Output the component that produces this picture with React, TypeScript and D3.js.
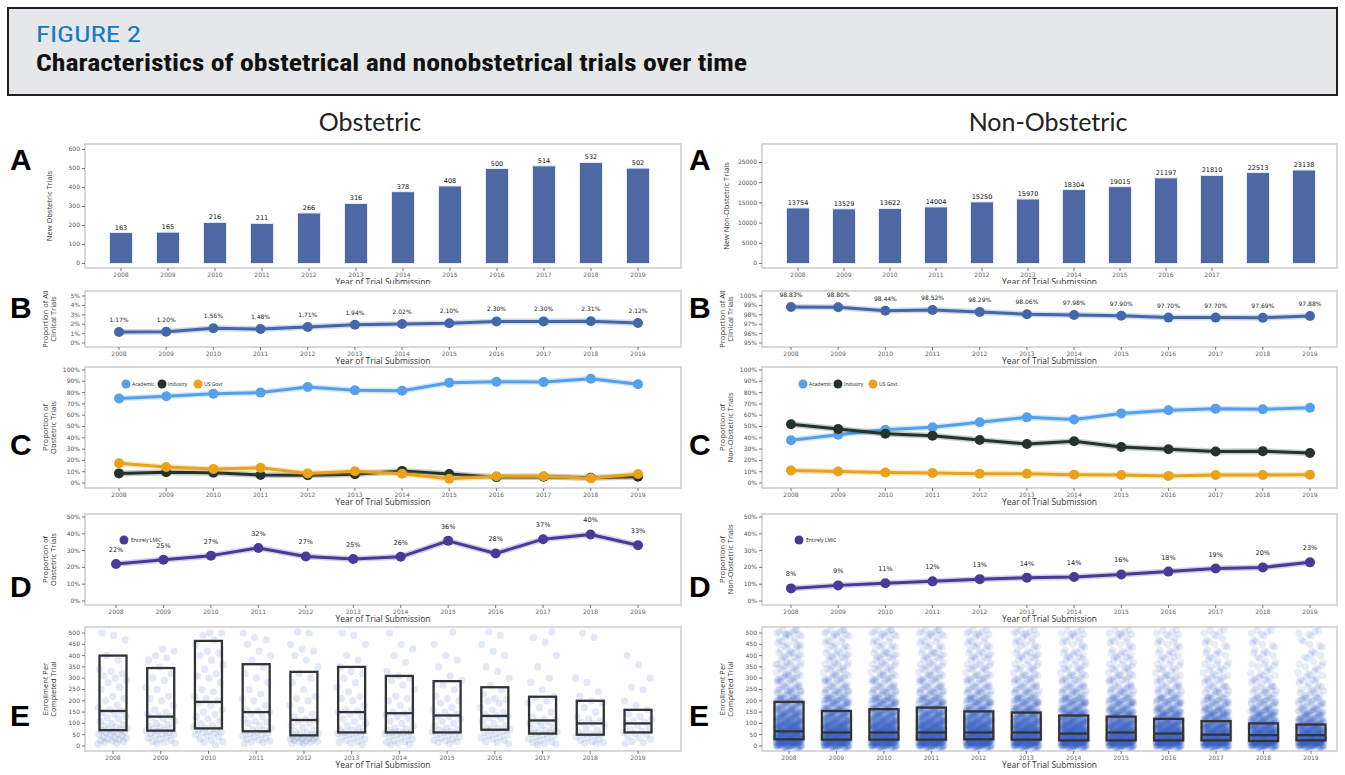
import React from "react";
import * as d3 from "d3";

// ---------------- DATA ----------------
const years = [2008, 2009, 2010, 2011, 2012, 2013, 2014, 2015, 2016, 2017, 2018, 2019];
const nonObsYearLabelsA = [2008, 2009, 2010, 2011, 2012, 2013, 2014, 2015, 2016, 2017];

const obsNewTrials = [163, 165, 216, 211, 266, 316, 378, 408, 500, 514, 532, 502];
const nonObsNewTrials = [13754, 13529, 13622, 14004, 15250, 15970, 18304, 19015, 21197, 21810, 22513, 23138];

const obsShareOfAll = [1.17, 1.2, 1.56, 1.48, 1.71, 1.94, 2.02, 2.1, 2.3, 2.3, 2.31, 2.12];
const nonObsShareOfAll = [98.83, 98.8, 98.44, 98.52, 98.29, 98.06, 97.98, 97.9, 97.7, 97.7, 97.69, 97.88];

const obsAcademic = [74.8, 76.7, 79, 80, 85, 82, 81.6, 88.8, 89.6, 89.3, 92.3, 87.4];
const obsIndustry = [8.5, 9.6, 9, 7.1, 6.8, 7.7, 10.7, 7.9, 5.2, 5.5, 4.7, 5.5];
const obsGovt = [17.5, 14.2, 12.3, 13.4, 8.5, 10.4, 8.2, 3.8, 6, 6, 4.1, 7.9];
const nonAcademic = [37.8, 42.7, 47.1, 49.3, 53.7, 58.1, 56.2, 61.6, 64.4, 65.8, 65.2, 66.6];
const nonIndustry = [52, 47.7, 43.6, 41.9, 38.1, 34.5, 37, 31.8, 29.9, 27.9, 28.2, 26.6];
const nonGovt = [11, 10.1, 9.3, 8.8, 8.2, 8.2, 7.4, 7.1, 6.3, 7.1, 7.1, 7.4];

const obsLMIC = [22, 24.6, 27, 31.6, 26.5, 25, 26.3, 35.8, 28.3, 36.8, 39.6, 33.2];
const nonLMIC = [7.5, 9.3, 10.6, 11.7, 13, 13.9, 14.3, 15.8, 17.5, 19.3, 20, 23];

const obsQ1 = [70, 68, 78, 65, 47, 60, 60, 60, 72, 55, 50, 60];
const obsMedian = [155, 130, 195, 150, 115, 150, 145, 135, 133, 113, 100, 100];
const obsQ3 = [400, 345, 465, 362, 328, 350, 310, 287, 260, 218, 200, 160];
const nonQ1 = [30, 28, 28, 28, 30, 28, 25, 25, 25, 25, 22, 25];
const nonMedian = [65, 60, 60, 60, 60, 60, 55, 60, 55, 50, 48, 48];
const nonQ3 = [195, 155, 163, 170, 153, 148, 135, 130, 120, 110, 100, 95];

const obsEnrollment = [
  [8, 12, 15, 20, 22, 25, 28, 30, 35, 38, 40, 45, 50, 52, 55, 60, 62, 65, 70, 72, 75, 80, 85, 90, 95, 100, 110, 120, 125, 130, 140, 150, 155, 160, 170, 180, 200, 210, 220, 250, 260, 280, 290, 300, 310, 320, 330, 340, 380, 400, 470, 490, 500],
  [10, 12, 15, 20, 25, 30, 35, 40, 45, 50, 52, 55, 60, 65, 68, 70, 75, 80, 85, 90, 95, 100, 110, 120, 125, 130, 135, 140, 150, 160, 180, 200, 210, 220, 250, 260, 290, 300, 320, 350, 380, 390, 400, 420, 430],
  [5, 15, 20, 25, 30, 40, 45, 50, 55, 60, 62, 65, 70, 75, 80, 85, 90, 100, 110, 120, 130, 140, 150, 160, 180, 190, 200, 210, 220, 240, 250, 280, 300, 310, 320, 340, 360, 380, 400, 410, 420, 450, 470, 490, 500, 500],
  [10, 15, 18, 22, 25, 30, 35, 40, 45, 50, 55, 60, 62, 65, 70, 75, 80, 90, 100, 105, 110, 120, 130, 140, 150, 155, 160, 180, 200, 210, 230, 250, 280, 300, 320, 350, 380, 400, 420, 450, 470, 480, 500],
  [10, 12, 15, 18, 20, 22, 25, 28, 30, 32, 35, 38, 40, 42, 45, 48, 50, 55, 60, 65, 70, 80, 90, 100, 110, 115, 120, 130, 140, 160, 180, 200, 210, 220, 250, 280, 300, 320, 350, 380, 400, 420, 430, 450, 500, 505],
  [5, 10, 15, 20, 25, 30, 35, 40, 45, 50, 55, 58, 60, 65, 70, 75, 80, 90, 100, 110, 120, 130, 140, 150, 155, 160, 180, 200, 210, 220, 240, 260, 280, 300, 320, 330, 350, 380, 400, 450, 490, 500],
  [5, 8, 10, 15, 20, 25, 30, 35, 40, 45, 50, 55, 58, 60, 62, 65, 70, 75, 80, 90, 100, 110, 120, 130, 140, 145, 150, 160, 180, 200, 210, 220, 250, 270, 290, 300, 310, 330, 370, 400, 430, 450, 500],
  [10, 15, 20, 22, 25, 30, 35, 40, 45, 50, 55, 60, 62, 65, 70, 75, 80, 90, 100, 110, 120, 130, 135, 140, 150, 160, 170, 190, 200, 210, 220, 250, 270, 290, 310, 350, 380, 400, 450, 505],
  [10, 15, 20, 25, 30, 35, 40, 45, 50, 55, 60, 65, 70, 75, 78, 80, 90, 100, 110, 120, 125, 130, 135, 140, 150, 160, 170, 190, 200, 205, 210, 230, 250, 270, 300, 330, 350, 400, 420, 450, 490, 505],
  [5, 8, 10, 15, 20, 25, 30, 35, 40, 45, 50, 55, 58, 60, 65, 70, 75, 80, 90, 100, 105, 110, 115, 120, 130, 150, 170, 190, 200, 210, 220, 250, 280, 300, 350, 400, 460, 480, 505],
  [10, 12, 15, 20, 25, 30, 35, 40, 45, 50, 52, 55, 60, 70, 80, 90, 100, 105, 110, 120, 130, 150, 170, 190, 200, 220, 240, 280, 300, 480, 500],
  [10, 15, 20, 30, 35, 40, 50, 55, 60, 65, 70, 80, 90, 100, 105, 110, 120, 130, 140, 160, 180, 200, 250, 260, 300, 360, 400],
];

const enrollmentLevels = [5, 25, 50, 75, 100, 125, 150, 175, 200, 225, 250, 275, 300, 325, 350, 375, 400, 425, 450, 475, 500];
const nonEnrollmentCounts = [
  [70, 80, 80, 65, 55, 42, 38, 24, 26, 14, 15, 9, 12, 7, 9, 6, 9, 5, 7, 5, 10],
  [70, 80, 80, 65, 54, 40, 36, 23, 25, 13, 14, 9, 11, 7, 8, 6, 8, 5, 6, 5, 9],
  [70, 80, 80, 65, 55, 42, 37, 24, 26, 14, 14, 9, 11, 7, 8, 6, 9, 5, 6, 5, 9],
  [70, 80, 80, 65, 55, 42, 38, 24, 26, 14, 14, 9, 11, 7, 8, 6, 9, 5, 6, 5, 9],
  [70, 80, 80, 65, 54, 40, 36, 23, 25, 13, 13, 8, 11, 6, 8, 5, 8, 5, 6, 4, 8],
  [70, 80, 80, 65, 54, 40, 36, 23, 25, 13, 13, 8, 11, 6, 7, 5, 8, 4, 6, 4, 8],
  [74, 82, 80, 65, 54, 40, 36, 23, 26, 13, 13, 8, 10, 6, 7, 5, 7, 4, 5, 4, 7],
  [74, 82, 80, 62, 52, 38, 34, 21, 23, 12, 12, 7, 10, 6, 7, 5, 7, 4, 5, 4, 7],
  [74, 82, 78, 60, 50, 36, 32, 19, 21, 11, 11, 7, 9, 5, 6, 4, 6, 4, 5, 3, 6],
  [74, 80, 76, 58, 46, 32, 28, 16, 18, 10, 10, 6, 8, 5, 5, 4, 5, 3, 4, 3, 5],
  [74, 80, 74, 56, 44, 30, 25, 15, 16, 9, 9, 5, 7, 4, 5, 3, 5, 3, 4, 2, 5],
  [74, 78, 72, 54, 40, 26, 20, 12, 13, 7, 7, 5, 6, 4, 4, 3, 4, 2, 3, 2, 4],
];

const obsCountTicks = [0, 100, 200, 300, 400, 500, 600];
const nonObsCountTicks = [0, 5000, 10000, 15000, 20000, 25000];
const obsShareTicks = [0, 1, 2, 3, 4, 5];
const nonObsShareTicks = [95, 96, 97, 98, 99, 100];
const sponsorTicks = [0, 10, 20, 30, 40, 50, 60, 70, 80, 90, 100];
const lmicTicks = [0, 10, 20, 30, 40, 50];
const enrollTicks = [0, 50, 100, 150, 200, 250, 300, 350, 400, 450, 500];

const sponsorNames = ["Academic", "Industry", "US Govt"];

// ---------------- STYLE / LAYOUT ----------------
const C_BAR = "#4d68a3";
const C_SHARE = "#4467aa";
const C_ACAD = "#56a0ea";
const C_IND = "#25332f";
const C_GOV = "#e8a21c";
const C_LMIC = "#4a3a97";
const TICK_FONT = "'DejaVu Sans', sans-serif";
const SMALL_FONT = "'Open Sans', 'DejaVu Sans', sans-serif";

const COLS = {
  left: { x0: 85, x1: 681, xa: 119, xb: 638, titleX: 370, letterX: 10 },
  right: { x0: 762, x1: 1337, xa: 791, xb: 1310, titleX: 1048, letterX: 689 },
};
const ROWS = {
  A: { top: 144, bottom: 268, bg: 138, letterY: 170 },
  B: { top: 291, bottom: 347, bg: 284, letterY: 318 },
  C: { top: 367, bottom: 488, bg: 364, letterY: 455 },
  D: { top: 514, bottom: 605, bg: 510, letterY: 597 },
  E: { top: 627, bottom: 751, bg: 624, letterY: 726 },
};

function Frame({ col, row, yScale, yTicks, yFmt, yTitle, xLabels, xScale, children, bgBottom }: any) {
  const midY = (row.top + row.bottom) / 2;
  return (
    <g>
      <rect x={col.x0 - 70} y={row.bg} width={col.x1 - col.x0 + 75} height={bgBottom - row.bg} fill="#fff" />
      <rect x={col.x0} y={row.top} width={col.x1 - col.x0} height={row.bottom - row.top} fill="none" stroke="#cfcfcf" strokeWidth={1.6} />
      {yTicks.map((t: number) => (
        <g key={"y" + t}>
          <line x1={col.x0 - 3} x2={col.x0} y1={yScale(t)} y2={yScale(t)} stroke="#555" strokeWidth={0.8} />
          <text x={col.x0 - 5} y={yScale(t)} dy="0.33em" textAnchor="end" fontSize={6} fill="#555" fontFamily={TICK_FONT}>
            {yFmt(t)}
          </text>
        </g>
      ))}
      {xLabels.map((yr: number) => (
        <g key={"x" + yr}>
          <line x1={xScale(yr)} x2={xScale(yr)} y1={row.bottom} y2={row.bottom + 3} stroke="#555" strokeWidth={0.8} />
          <text x={xScale(yr)} y={row.bottom + 9} textAnchor="middle" fontSize={6} fill="#666" fontFamily={TICK_FONT}>
            {yr}
          </text>
        </g>
      ))}
      <text x={(col.x0 + col.x1) / 2} y={row.bottom + 17} textAnchor="middle" fontSize={8.5} fill="#333" fontFamily="'Open Sans', sans-serif">
        Year of Trial Submission
      </text>
      {yTitle.map((line: string, i: number) => {
        const x = col.x0 - 37 + i * 8 + (yTitle.length === 1 ? 4 : 0);
        return (
          <text key={line} transform={`translate(${x},${midY}) rotate(-90)`} textAnchor="middle" fontSize={7.5} fill="#333" fontFamily="'Open Sans', sans-serif">
            {line}
          </text>
        );
      })}
      {children}
    </g>
  );
}

function LinePlot({ xScale, yScale, values, color, r = 5, width = 3 }: any) {
  const line = d3
    .line<number>()
    .x((_, i) => xScale(years[i]))
    .y((v) => yScale(v));
  return (
    <g>
      <path d={line(values) || ""} fill="none" stroke={color} strokeOpacity={0.25} strokeWidth={width + 3} strokeLinejoin="round" />
      <path d={line(values) || ""} fill="none" stroke={color} strokeWidth={width} strokeLinejoin="round" />
      {values.map((v: number, i: number) => (
        <circle key={i} cx={xScale(years[i])} cy={yScale(v)} r={r} fill={color} />
      ))}
    </g>
  );
}

function PanelA({ colKey }: { colKey: "left" | "right" }) {
  const col = COLS[colKey];
  const row = ROWS.A;
  const isObs = colKey === "left";
  const data = isObs ? obsNewTrials : nonObsNewTrials;
  const xs = isObs
    ? d3.scalePoint<number>().domain(years).range([121, 638])
    : d3.scalePoint<number>().domain(years).range([798, 1304]);
  const yScale = isObs
    ? d3.scaleLinear().domain([0, 600]).range([263.5, 149.5])
    : d3.scaleLinear().domain([0, 25000]).range([263.5, 162.5]);
  const bw = 23;
  return (
    <Frame
      col={col}
      row={row}
      yScale={yScale}
      yTicks={isObs ? obsCountTicks : nonObsCountTicks}
      yFmt={(t: number) => String(t)}
      yTitle={[isObs ? "New Obstetric Trials" : "New Non-Obstetric Trials"]}
      xLabels={isObs ? years : nonObsYearLabelsA}
      xScale={xs}
      bgBottom={row.bottom + 30}
    >
      {data.map((v, i) => (
        <g key={i}>
          <rect x={xs(years[i])! - bw / 2} y={yScale(v)} width={bw} height={yScale(0) - yScale(v)} fill={C_BAR} stroke="#e6ecf7" strokeWidth={1} />
          <text x={xs(years[i])} y={yScale(v) - 3} textAnchor="middle" fontSize={6.5} fill="#111" fontFamily={TICK_FONT}>
            {v}
          </text>
        </g>
      ))}
    </Frame>
  );
}

function PanelB({ colKey }: { colKey: "left" | "right" }) {
  const col = COLS[colKey];
  const row = ROWS.B;
  const isObs = colKey === "left";
  const data = isObs ? obsShareOfAll : nonObsShareOfAll;
  const xs = d3.scalePoint<number>().domain(years).range([col.xa, col.xb]);
  const yScale = isObs
    ? d3.scaleLinear().domain([0, 5]).range([343, 296])
    : d3.scaleLinear().domain([95, 100]).range([343, 296]);
  return (
    <Frame
      col={col}
      row={row}
      yScale={yScale}
      yTicks={isObs ? obsShareTicks : nonObsShareTicks}
      yFmt={(t: number) => t + "%"}
      yTitle={["Proportion of All", "Clinical Trials"]}
      xLabels={years}
      xScale={xs}
      bgBottom={row.bottom + 22}
    >
      <LinePlot xScale={xs} yScale={yScale} values={data} color={C_SHARE} r={5} width={3} />
      {data.map((v, i) => (
        <text key={i} x={xs(years[i])} y={yScale(v) - 10} textAnchor="middle" fontSize={6} fill="#222" fontFamily={TICK_FONT}>
          {v.toFixed(2) + "%"}
        </text>
      ))}
    </Frame>
  );
}

function PanelC({ colKey }: { colKey: "left" | "right" }) {
  const col = COLS[colKey];
  const row = ROWS.C;
  const isObs = colKey === "left";
  const xs = d3.scalePoint<number>().domain(years).range([col.xa, col.xb]);
  const yScale = d3.scaleLinear().domain([0, 100]).range([483, 370]);
  const series = isObs ? [obsAcademic, obsIndustry, obsGovt] : [nonAcademic, nonIndustry, nonGovt];
  const colors = [C_ACAD, C_IND, C_GOV];
  const legendX = isObs ? 126 : 803;
  const legendStep = isObs ? 36 : 35;
  return (
    <Frame
      col={col}
      row={row}
      yScale={yScale}
      yTicks={sponsorTicks}
      yFmt={(t: number) => t + "%"}
      yTitle={["Proportion of", isObs ? "Obstetric Trials" : "Non-Obstetric Trials"]}
      xLabels={years}
      xScale={xs}
      bgBottom={row.bottom + 22}
    >
      {[0, 1, 2].map((k) => (
        <LinePlot key={k} xScale={xs} yScale={yScale} values={series[k]} color={colors[k]} r={5} width={3} />
      ))}
      {sponsorNames.map((name, k) => (
        <g key={name}>
          <circle cx={legendX + k * legendStep} cy={384} r={4.5} fill={colors[k]} />
          <text x={legendX + k * legendStep + 6} y={386} fontSize={5} fill="#222" fontFamily={SMALL_FONT}>
            {name}
          </text>
        </g>
      ))}
    </Frame>
  );
}

function PanelD({ colKey }: { colKey: "left" | "right" }) {
  const col = COLS[colKey];
  const row = ROWS.D;
  const isObs = colKey === "left";
  const data = isObs ? obsLMIC : nonLMIC;
  const xs = d3.scalePoint<number>().domain(years).range([isObs ? 116 : col.xa, col.xb]);
  const yScale = d3.scaleLinear().domain([0, 50]).range([601, 517]);
  const legendX = isObs ? 124 : 799;
  return (
    <Frame
      col={col}
      row={row}
      yScale={yScale}
      yTicks={lmicTicks}
      yFmt={(t: number) => t + "%"}
      yTitle={["Proportion of", isObs ? "Obstetric Trials" : "Non-Obstetric Trials"]}
      xLabels={years}
      xScale={xs}
      bgBottom={row.bottom + 22}
    >
      <LinePlot xScale={xs} yScale={yScale} values={data} color={C_LMIC} r={5} width={3} />
      {data.map((v, i) => (
        <text key={i} x={xs(years[i])} y={yScale(v) - 12} textAnchor="middle" fontSize={6.5} fill="#222" fontFamily={TICK_FONT}>
          {Math.round(v) + "%"}
        </text>
      ))}
      <circle cx={legendX} cy={540} r={4.5} fill={C_LMIC} />
      <text x={legendX + 7} y={542} fontSize={5} fill="#222" fontFamily={SMALL_FONT}>
        Entirely LMIC
      </text>
    </Frame>
  );
}

function PanelE({ colKey }: { colKey: "left" | "right" }) {
  const col = COLS[colKey];
  const row = ROWS.E;
  const isObs = colKey === "left";
  const xs = d3.scalePoint<number>().domain(years).range([isObs ? 113 : 789, isObs ? 638 : 1311]);
  const yScale = d3.scaleLinear().domain([0, 500]).range([746, 633]);
  const q1 = isObs ? obsQ1 : nonQ1;
  const med = isObs ? obsMedian : nonMedian;
  const q3 = isObs ? obsQ3 : nonQ3;
  const boxW = isObs ? 27 : 29;
  const golden = 0.6180339887;

  const dots: JSX.Element[] = [];
  if (isObs) {
    obsEnrollment.forEach((vals, yi) => {
      vals.forEach((v, i) => {
        const off = (((i * golden + yi * 0.37) % 1) - 0.5) * 30;
        dots.push(
          <circle key={`o${yi}-${i}`} cx={xs(years[yi])! + off} cy={yScale(Math.min(v, 505))} r={3.6} fill="#5279c2" fillOpacity={0.17} />
        );
      });
    });
  } else {
    nonEnrollmentCounts.forEach((counts, yi) => {
      counts.forEach((n, li) => {
        for (let j = 0; j < n; j++) {
          const off = (((j * golden + li * 0.29) % 1) - 0.5) * 26;
          const dy = (((j * 0.7548776662) % 1) - 0.5) * 5.5;
          dots.push(
            <circle key={`n${yi}-${li}-${j}`} cx={xs(years[yi])! + off} cy={yScale(enrollmentLevels[li]) + dy} r={3.6} fill="#3a60c8" fillOpacity={0.12} />
          );
        }
      });
    });
  }

  return (
    <Frame
      col={col}
      row={row}
      yScale={yScale}
      yTicks={enrollTicks}
      yFmt={(t: number) => String(t)}
      yTitle={["Enrollment Per", "Completed Trial"]}
      xLabels={years}
      xScale={xs}
      bgBottom={775}
    >
      <defs>
        <clipPath id={"clipE" + colKey}>
          <rect x={col.x0} y={row.top} width={col.x1 - col.x0} height={row.bottom - row.top} />
        </clipPath>
      </defs>
      <g clipPath={`url(#clipE${colKey})`}>{dots}</g>
      {years.map((yr, i) => (
        <g key={yr}>
          <rect x={xs(yr)! - boxW / 2} y={yScale(q3[i])} width={boxW} height={yScale(q1[i]) - yScale(q3[i])} fill="none" stroke="#333" strokeWidth={2.3} />
          <line x1={xs(yr)! - boxW / 2} x2={xs(yr)! + boxW / 2} y1={yScale(med[i])} y2={yScale(med[i])} stroke="#333" strokeWidth={2.3} />
        </g>
      ))}
    </Frame>
  );
}

export default function App() {
  const letters = ["A", "B", "C", "D", "E"] as const;
  return (
    <svg width={1345} height={775} style={{ position: "absolute", left: 0, top: 0, background: "#fff" }}>
      <rect x={0} y={0} width={1345} height={775} fill="#fff" />
      <rect x={8} y={8} width={1329} height={87} fill="#e6e7e8" stroke="#231f20" strokeWidth={2} />
      <text x={36} y={42} fontSize={22} fill="#1479c4" fontFamily="'Liberation Sans Narrow','Roboto Condensed','Liberation Sans',Arial" textLength={105} lengthAdjust="spacingAndGlyphs">
        FIGURE 2
      </text>
      <text x={36} y={71} fontSize={24} fontWeight="bold" fill="#111" fontFamily="'Liberation Sans Narrow','Roboto Condensed','Liberation Sans',Arial" textLength={711} lengthAdjust="spacingAndGlyphs">
        Characteristics of obstetrical and nonobstetrical trials over time
      </text>
      <text x={COLS.left.titleX} y={131} textAnchor="middle" fontSize={25} fill="#222" fontFamily="Lato, 'Open Sans', sans-serif">
        Obstetric
      </text>
      <text x={COLS.right.titleX} y={131} textAnchor="middle" fontSize={25} fill="#222" fontFamily="Lato, 'Open Sans', sans-serif">
        Non-Obstetric
      </text>

      {(["left", "right"] as const).map((k) => (
        <g key={k}>
          <PanelA colKey={k} />
          <PanelB colKey={k} />
          <PanelC colKey={k} />
          <PanelD colKey={k} />
          <PanelE colKey={k} />
        </g>
      ))}

      {(["left", "right"] as const).map((k) =>
        letters.map((L) => (
          <text key={k + L} x={COLS[k].letterX} y={ROWS[L].letterY} fontSize={30} fontWeight="bold" fill="#000" fontFamily="'Liberation Sans', Arial, sans-serif">
            {L}
          </text>
        ))
      )}
    </svg>
  );
}
